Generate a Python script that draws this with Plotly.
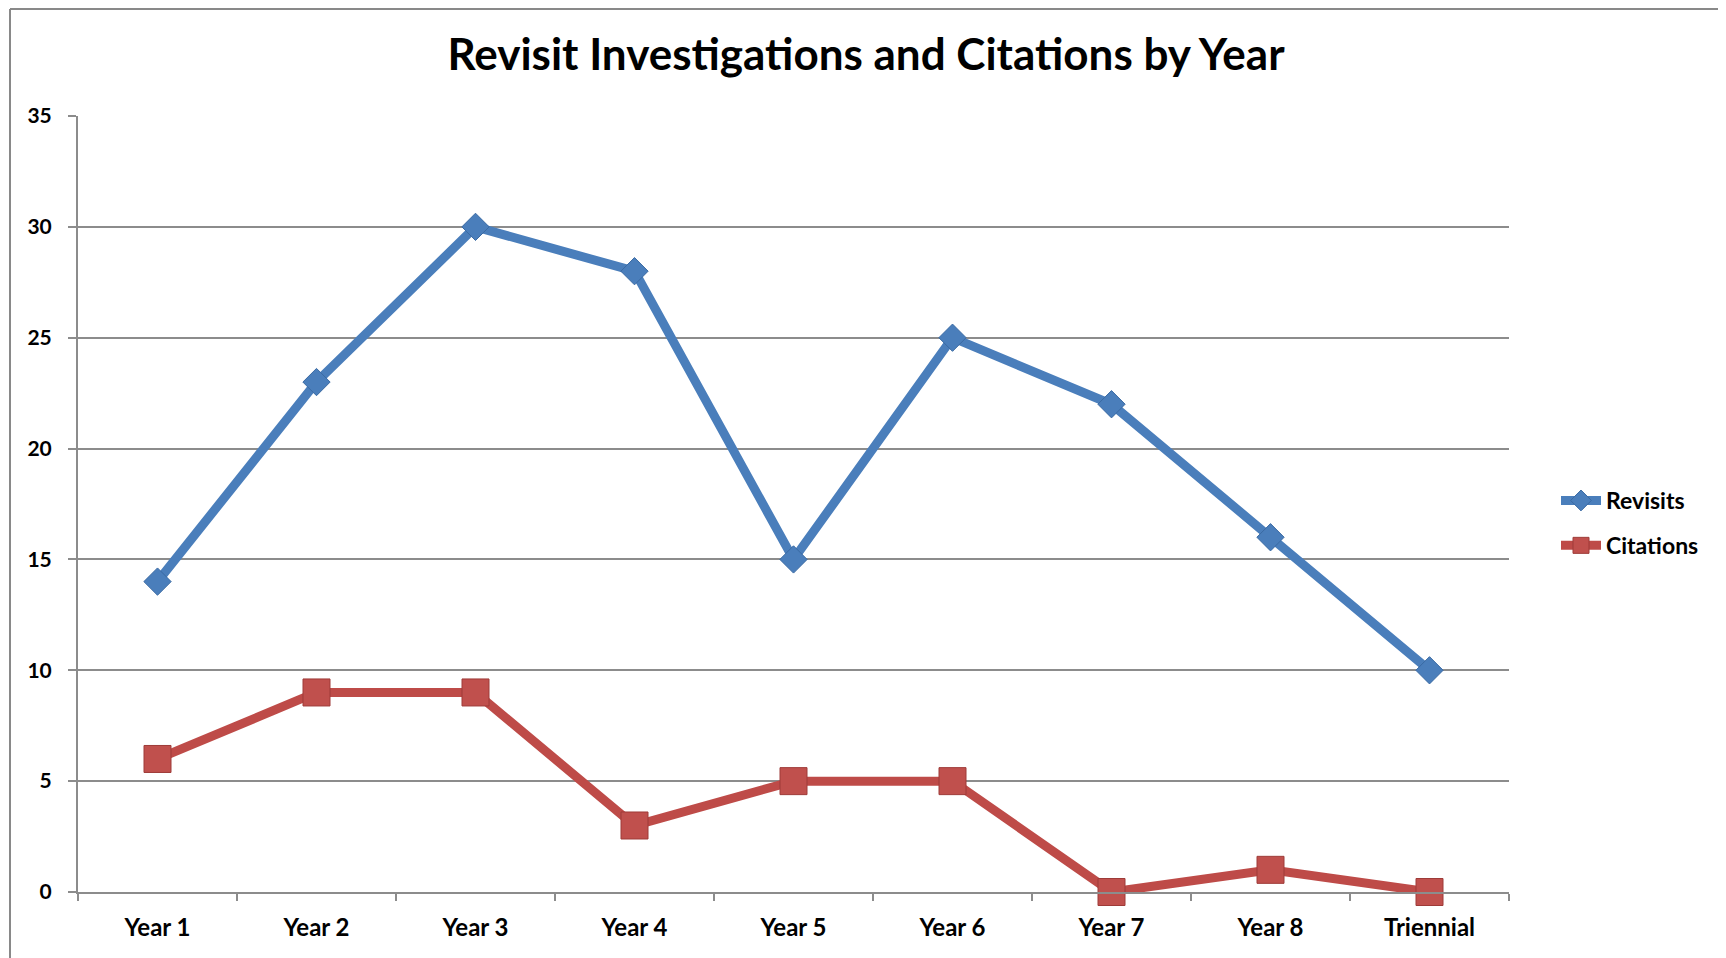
import plotly.graph_objects as go

categories = ["Year 1", "Year 2", "Year 3", "Year 4", "Year 5", "Year 6", "Year 7", "Year 8", "Triennial"]
revisits = [14, 23, 30, 28, 15, 25, 22, 16, 10]
citations = [6, 9, 9, 3, 5, 5, 0, 1, 0]
y_ticks = [0, 5, 10, 15, 20, 25, 30, 35]

W, H = 1726, 958
OFF = 8  # default page body margin
L, R, T, B = 78, 1509, 116, 892  # plot area in page pixels

def px_x(p):
    return (p - L) / (R - L)

def px_y(p):
    return (B - p) / (B - T)

FONT = "Lato, 'Open Sans', Arial, sans-serif"
BLUE = "#4A7EBB"
RED = "#BE4B48"
GRID = "#8C8C8C"

fig = go.Figure()
fig.add_trace(go.Scatter(
    x=categories, y=revisits, name="Revisits", mode="lines+markers",
    line=dict(color=BLUE, width=9),
    marker=dict(symbol="diamond", size=21, color="#4A7EBB", line=dict(color="#3A6AA3", width=1)),
    cliponaxis=False, legendgroup="a",
))
fig.add_trace(go.Scatter(
    x=categories, y=citations, name="Citations", mode="lines+markers",
    line=dict(color=RED, width=9),
    marker=dict(symbol="square", size=27, color="#C0504D", line=dict(color="#9E3B38", width=1)),
    cliponaxis=False, legendgroup="b",
))

fig.update_layout(
    width=W - OFF, height=H - OFF,
    margin=dict(l=L - OFF, r=W - R, t=T - OFF, b=H - B, pad=0),
    paper_bgcolor="white", plot_bgcolor="white",
    font=dict(family=FONT, size=23, color="black", weight="bold"),
    title=dict(
        text="Revisit Investigations and Citations by Year",
        font=dict(family=FONT, size=44, color="black", weight="bold"),
        x=px_x(866), xref="paper", xanchor="center",
        y=1 - (55 - OFF) / (H - OFF), yref="container", yanchor="middle",
    ),
    showlegend=True,
    legend=dict(
        x=px_x(1556), xanchor="left", y=px_y(479), yanchor="top",
        font=dict(family=FONT, size=23, color="black", weight="bold"),
        bgcolor="rgba(0,0,0,0)", tracegroupgap=12, itemwidth=40,
    ),
    xaxis=dict(
        type="category", categoryorder="array", categoryarray=categories,
        range=[-0.5, len(categories) - 0.5], autorange=False,
        showgrid=False, showline=True, linecolor=GRID, linewidth=2,
        ticks="outside", tickson="boundaries", ticklen=7, tickwidth=2, tickcolor=GRID,
        ticklabelstandoff=13, zeroline=False,
        tickfont=dict(family=FONT, size=24, color="black", weight="bold"),
    ),
    yaxis=dict(
        range=[0, 35], autorange=False, tickvals=y_ticks, ticktext=[str(v) for v in y_ticks],
        showgrid=True, gridcolor=GRID, gridwidth=1.6,
        showline=True, linecolor=GRID, linewidth=2,
        ticks="outside", ticklen=8, tickwidth=2, tickcolor=GRID,
        ticklabelstandoff=12, zeroline=False,
        tickfont=dict(family=FONT, size=21, color="black", weight="bold"),
    ),
    shapes=[
        dict(type="line", xref="paper", yref="paper",
             x0=px_x(10), x1=px_x(W + 5), y0=px_y(OFF + 1), y1=px_y(OFF + 1),
             line=dict(color="#898989", width=2)),
        dict(type="line", xref="paper", yref="paper",
             x0=px_x(10), x1=px_x(10), y0=px_y(OFF + 1), y1=px_y(H + 5),
             line=dict(color="#898989", width=2)),
    ],
)

fig.write_html("out.html")
